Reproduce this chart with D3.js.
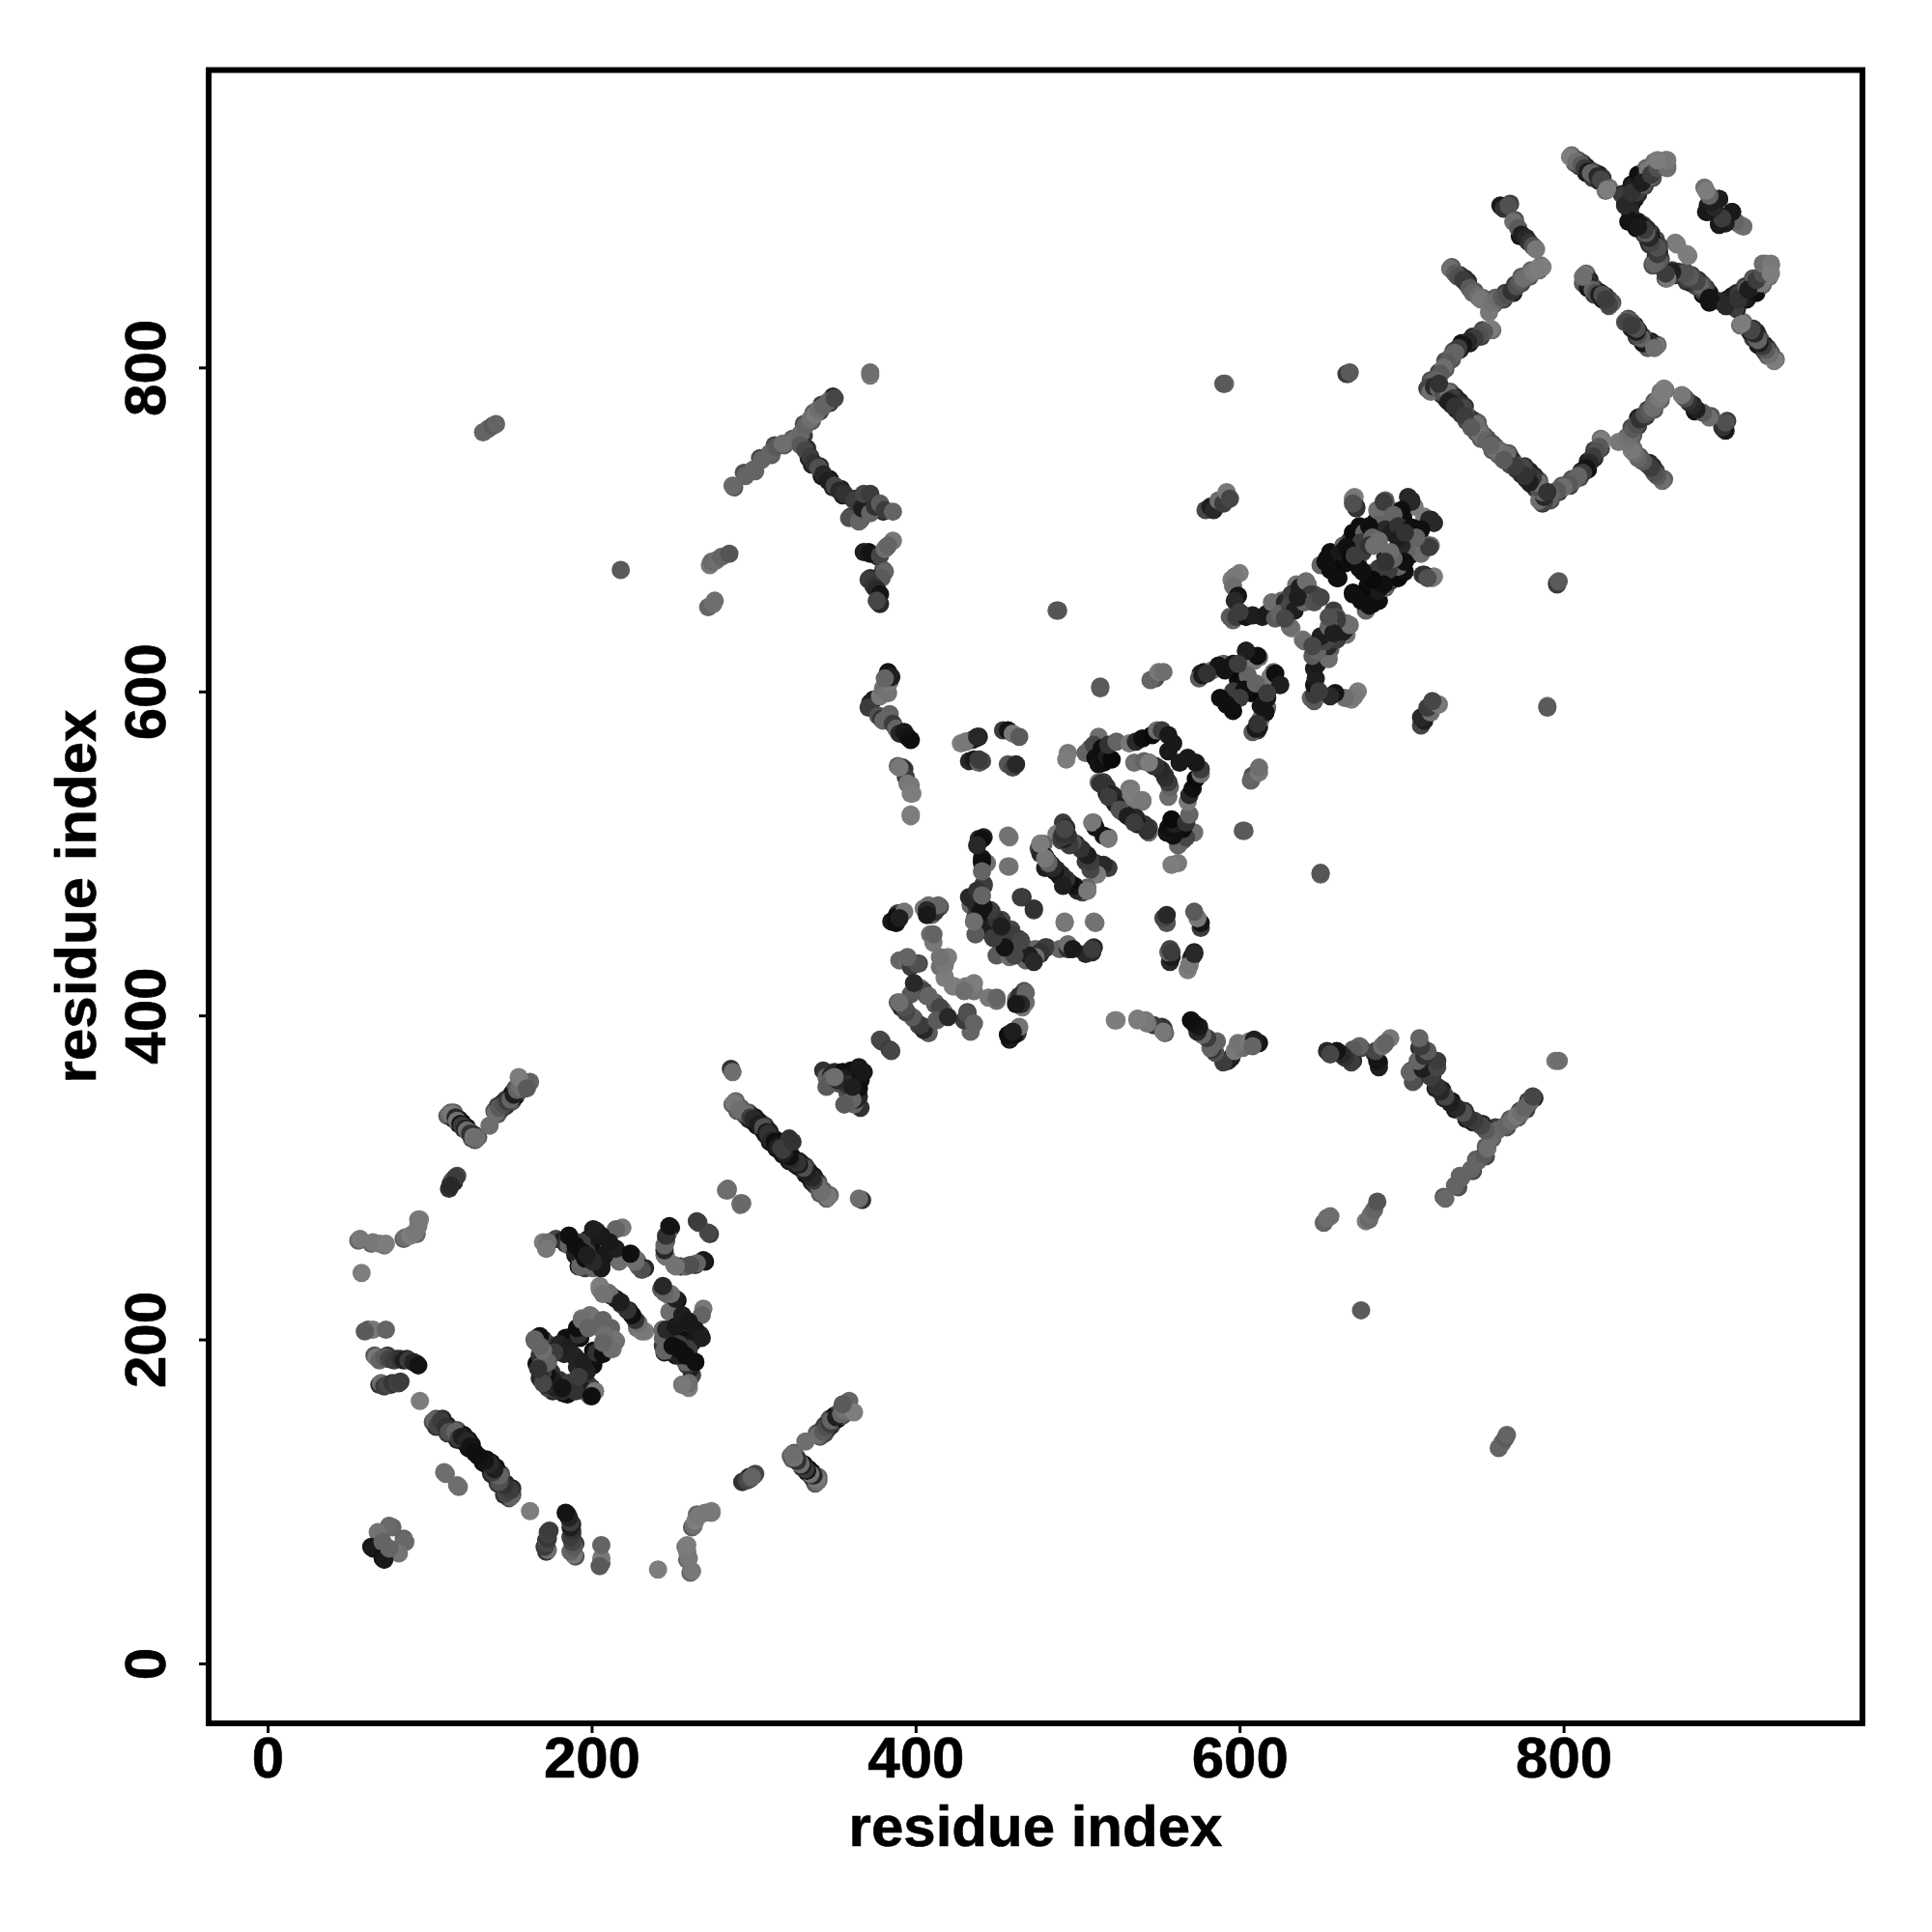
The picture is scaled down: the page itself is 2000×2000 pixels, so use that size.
<!DOCTYPE html>
<html><head><meta charset="utf-8">
<script src="https://cdn.jsdelivr.net/npm/d3@7/dist/d3.min.js"></script>
<style>html,body{margin:0;background:#fff}svg{display:block}</style></head>
<body><svg id="c" width="2000" height="2000"></svg>
<script>
// contacts: [residue i, residue j, grey level], i<j. The map is symmetric, each pair is drawn at (i,j) and (j,i).
const tickLabels=[0,200,400,600,800];
const axisTitle="residue index";
const edgeT=[[288,726,90],[294,735,80],[301,736,100],[304,744,70],[311,746,90],[313,752,70],[319,752,90],[324,756,90],[331,758,60],[331,765,80],[336,767,90],[337,772,90],[341,773,70],[342,777,60],[347,778,60],[349,782,40],
[330,753,50],[333,750,40],[334,744,30],[336,740,30],[341,739,50],[342,733,25],[347,731,20],[349,726,40],[354,725,30],[355,721,30],[360,708,50],[363,719,40],[366,706,70],[366,712,20],[371,711,60],[376,715,30],[380,711,40],
[371,686,15],[377,683,50],[382,689,90],[380,675,70],[372,670,40],[375,664,25],[377,655,30]];
const edgeU=[[762,899,25],[767,901,60],[770,891,80],[773,881,20],[778,878,30],[782,874,90],
[731,862,90],[734,857,70],[736,857,60],[739,855,40],[741,853,40],[743,848,70],[745,847,80],[748,843,90],[750,843,100],
[757,839,100],[758,843,90],[763,842,70],[764,846,60],[769,846,30],[770,851,60],[774,852,70],[774,856,90],[779,856,90],[780,860,100],[785,860,110],[786,863,110],
[756,823,110],[750,823,70],[749,819,60],[744,819,40],[742,815,25],[737,815,15],[736,811,40],[732,810,80],[731,805,80],[727,804,70],[727,799,90],[723,797,70],[722,791,80],[718,792,80],[716,787,50],[717,786,90],
[721,789,25],[724,788,80],[727,785,60],[730,785,90],[733,782,40],[736,779,30],[739,776,50],[742,769,80],[745,767,25],[748,762,100],[747,766,90],[751,758,100],[753,756,80],
[722,786,30],[725,783,60],[728,780,25],[731,777,40],[734,774,30],[737,771,50],[740,767,70],[743,764,80],[746,760,90],[749,756,90]];
const edgeV=[[805,931,110],[809,928,90],[812,926,70],[814,924,40],[816,922,15],[818,921,80],[820,920,80],[822,919,30],[824,917,50],[828,911,110],
[807,926,100],[810,924,70],[814,920,25],[818,917,60],[822,915,40],[826,909,110],
[814,858,100],[816,854,30],[817,851,20],[819,849,80],[821,847,60],[823,846,20],[826,844,30],[828,842,70],[830,840,80],[812,852,90],[815,849,20],[819,845,60],[824,842,30],[828,838,80],
[838,905,40],[840,899,15],[842,901,30],[844,904,20],[844,911,20],[846,907,40],[848,917,15],[850,912,70],[851,915,30],[853,921,100],[855,917,80],[858,925,110],
[836,907,40],[838,901,15],[840,903,30],[842,906,20],[842,913,20],[844,909,40],[846,919,15],[848,914,70],[849,917,30],[851,923,100],[853,919,80],[856,927,110],
[842,892,15],[846,890,20],[849,888,60],[852,885,80],[854,883,50],[857,879,70],[840,890,15],[844,888,20],[847,886,60],[850,883,80],[852,881,50],[855,877,70],
[867,860,70],[871,859,40],[875,859,60],[878,855,50],[881,854,25],[884,852,70],[886,851,40],[888,847,15],[863,855,80],[865,858,80],[869,857,40],[873,857,60],[876,853,50],[879,852,25],[882,850,70],[886,845,15]];
const edgeO=[[113,340,100],[115,340,100],[118,336,30],[120,334,15],[123,331,20],[125,328,80],[128,326,30],[130,325,90],[111,338,90],[115,336,30],[118,333,15],[121,330,40],[124,328,20],[126,324,90],[128,323,90],
[142,339,90],[144,342,70],[147,344,60],[149,346,40],[151,347,80],[153,350,20],[155,353,80],[157,355,90],[140,341,90],[142,344,70],[145,346,60],[147,348,40],[149,349,80],[151,352,20],[153,355,80],[155,358,90],
[104,151,80],[106,148,50],[108,151,40],[111,147,30],[113,144,60],[117,144,80],[119,140,40],[121,141,15],[124,138,25],[126,135,15],[102,149,80],[104,146,50],[106,149,40],[109,145,30],[111,142,60],[115,142,80],[117,138,40],[119,139,15],[122,136,25],[124,133,15],
[289,347,100],[292,343,90],[297,340,90],[299,338,40],[301,337,25],[304,334,20],[307,332,60],[309,329,15],[310,328,30],[312,324,25],[314,323,15],[316,320,20],[287,345,100],[290,341,90],[295,338,90],[297,336,40],[299,335,25],[302,332,20],[305,330,60],[307,327,15],[308,326,30],[310,322,25],[312,321,15],[314,318,20],
[297,115,40],[300,116,60],[295,113,40],[56,261,100],[64,259,100],[72,258,110],[84,262,90],[92,265,100],[66,190,80],[74,190,60],[80,188,40],[86,188,40],[92,185,15],[69,172,50],[76,172,40],[81,173,50]];
const farLeft=[[57,262,120],[65,260,120],[69,259,120],[73,259,125],[85,263,110],[88,264,125],[91,266,120],[94,274,125],[93,270,120],[58,241,125],
[62,206,80],[65,206,120],[73,206,100],[60,205,90],[67,189,120],[69,187,100],[72,189,90],[75,188,70],[78,187,60],[82,188,50],[84,187,30],[87,187,60],[90,186,35],[93,184,20],
[70,173,110],[72,171,60],[74,172,70],[77,173,55],[80,173,65],[82,174,60],[94,162,125]];
const chainH=[[103,150,100],[105,147,70],[107,150,60],[110,146,50],[112,143,80],[116,143,100],[118,139,60],[120,140,30],[123,137,40],[125,134,20],[128,130,15],
[110,117,110],[109,118,110]];
const clusterK=[[70,79,115],[77,84,100],[75,85,105],[65,71,20],[68,81,115],[64,72,25],[71,75,100]];
const armA=[[112,339,110],[114,339,120],[116,337,40],[117,335,115],[119,333,20],[120,332,60],[122,330,30],[123,329,110],[125,327,50],[127,325,115],[129,324,110],
[137,332,110],[141,340,110],[143,343,90],[146,345,80],[148,347,60],[150,348,100],[152,351,30],[154,354,100],[156,356,110],[158,357,115],[162,359,100],[155,362,125],[160,355,90]];
const armB=[[112,293,50],[113,296,70],[114,298,80],[117,301,70],[115,299,100]];
const farA=[[136,762,100],[133,760,100],[139,764,90],[141,765,100],[218,675,90],[272,652,100],[275,654,110],[276,656,110],
[273,678,120],[274,680,105],[277,681,110],[280,683,100],[285,685,85],[372,795,120],[372,797,110]];
const armT=[[287,727,105],[295,733,100],[300,737,100],[305,743,100],[310,747,100],[314,751,90],[318,753,110],[325,755,110],[329,759,105],[332,764,100],[335,768,110],[338,771,120],[340,774,110],[343,776,100],[346,779,100],[350,781,70],
[329,752,90],[332,749,70],[335,745,60],[337,741,50],[340,738,80],[343,734,40],[346,730,30],[350,727,70],[353,724,40],[356,722,50],[359,707,80],[362,718,60],[365,705,100],[367,713,30],[368,722,70],[372,722,60],[372,710,100],[375,714,50],[378,716,90],[381,712,60],[386,711,100],
[368,686,30],[372,685,20],[378,684,70],[381,688,110],[386,693,120],[383,690,100],[381,674,100],[379,670,90],[371,669,60],[374,665,50],[376,663,40],[378,660,20],[378,654,40],[376,656,70]];
const contactsC=[[173,259,110],[170,260,125],[178,262,70],[182,261,30],[187,262,15],[184,259,50],[190,260,40],[192,257,60],[194,255,30],[195,245,110],[197,252,25],[199,249,60],
[203,267,50],[205,262,25],[204,265,15],[207,257,100],[209,256,25],[211,254,35],[213,252,15],[215,251,80],[217,248,110],[201,247,30],[206,244,110],[204,250,20],[219,269,120],[225,252,30],[228,249,110],[229,245,100],[233,244,40],
[205,231,120],[210,229,110],[212,227,50],[215,225,15],[218,222,50],[225,215,30],[228,211,110],[233,205,125],[228,207,115],[223,218,30],
[249,269,25],[247,265,100],[246,261,80],[245,252,115],[251,246,115],[255,245,40],[258,245,100],[264,246,50],[270,248,20],[266,272,70],[273,265,60],[243,231,80],[248,227,110],[253,224,15],
[172,256,110],[192,245,30],[196,244,60],[201,244,100],[206,246,40],[190,252,20],[193,250,100],[197,254,15],[200,256,70],[203,258,15],[186,258,100],[198,262,25],[194,260,60],
[215,268,100],[211,258,100],[186,264,100],[190,254,35],[208,252,25]];
const contactsD=[[165,199,120],[167,197,100],[170,200,20],[172,198,60],[169,195,90],[174,190,110],[171,193,30],[167,183,25],[166,185,15],[169,177,60],[175,180,50],[170,178,30],[168,182,40],[173,186,60],[168,190,50],
[168,202,120],[165,200,15],[184,201,15],[188,202,15],[193,201,15],[189,190,35],[183,191,35],[180,197,35],[186,195,30],[192,203,50],[191,207,15],[194,213,120],[199,215,110],[206,211,100],[212,207,100],[200,214,115],[194,212,110],[177,192,60],[203,208,110],[198,207,100],
[172,172,40],[175,176,30],[178,172,15],[180,170,60],[183,168,100],[170,182,20],[176,168,40],[173,170,70],[186,173,100],[193,170,110],[202,168,15],[200,165,100],[196,168,100],[182,167,50]];
const contactsE=[[93,274,120],[244,206,25],[248,201,40],[252,197,30],[215,256,30],[211,260,25],[206,264,25],[201,268,30],[186,264,15],[190,258,15],[193,245,100],[197,254,60],[194,254,15],[196,250,15],[173,260,110],[172,256,120]];
const chainS=[[286,367,50],[287,365,110],[288,346,120],[291,342,110],[296,339,110],[298,337,60],[300,336,40],[303,333,30],[306,331,80],[308,328,25],[309,327,50],[311,323,40],[313,322,15],[315,319,30],[317,318,60],[322,324,50],
[283,292,110],[292,284,110],[284,293,105],
[343,366,50],[345,362,100],[348,363,30],[350,365,40],[352,358,80],[355,365,15],[357,358,50],[360,366,15],[348,361,100],[345,356,90],[360,352,40],[362,350,110],[356,361,30],[365,368,25],[379,384,60]];
const chainL=[[372,593,40],[374,595,30],[371,590,60],[378,597,120],[380,602,110],[383,599,115],[384,606,120],[383,612,20],[385,609,30],[381,608,100],[377,585,80],[379,583,50],[380,582,100],[384,586,100],[386,580,60],[388,577,100],[390,574,40],[393,575,25],[395,572,20],[397,570,15],
[389,554,100],[392,553,50],[393,552,50],[394,547,60],[395,543,120],[397,542,120],[397,537,125],[397,523,125]];
const blockB=[[428,568,125],[431,569,110],[435,570,60],[437,571,25],[439,572,30],[433,557,40],[436,558,25],[439,556,100],[441,557,70],[454,576,60],[457,576,20],[460,574,120],[464,572,90],[457,555,85],[460,553,70],[462,555,40],
[431,569,120],[438,572,40],[439,558,60]];
const pentagon=[[494,562,120],[493,558,125],[508,565,90],[505,562,100],[513,572,110],[510,567,70],[515,565,15],[511,559,15],[513,555,20],[516,556,15],[518,560,30],[521,558,10],[519,567,50],[524,569,100],[532,568,120],[536,569,40],[540,571,15],[546,573,10],[549,576,110],[552,576,60],[556,573,25],[559,568,25],[556,563,25],
[535,556,110],[541,557,100],[544,556,60],[547,554,45],[552,551,40],[554,548,50],[556,544,125],
[533,540,125],[531,536,120],[538,533,125],[532,540,120],[513,544,110],[516,544,60],[518,541,50],[520,537,60],[522,536,40],[524,530,50],[527,526,80],[523,531,30],[518,537,25],[514,543,50],[519,535,60]];
const blockD=[[510,519,110],[511,516,20],[509,519,120],[491,519,60],[493,516,40],[487,512,125],[490,508,70],[495,508,60],[499,506,30],[503,502,50],[507,497,80],[505,495,60],[509,492,30],[511,494,50],[510,490,60],[512,491,50],[515,492,70],
[479,506,100],[476,503,70],[477,500,40],[480,498,20],[482,495,15],[484,493,50],[487,490,40],[489,486,20],[491,485,40],[494,482,100],[497,480,120],[506,477,125],[477,506,120],[480,491,30]];
const blockE=[[439,509,40],[442,510,35],[441,494,50],[444,494,110],[441,497,25],[458,510,120],[458,492,120],[441,509,60],
[442,480,60],[439,477,50],[436,474,110],[434,468,100],[437,470,30],[433,473,40],[447,464,50],[453,459,70],[439,458,100],[445,452,80],[444,461,30],[450,459,60],[446,465,70],[437,461,70],[442,455,20],[453,444,30],[448,448,60],[459,450,50],[455,453,30],[465,446,60],[461,437,60],[469,437,40],[464,440,20],[467,442,20],[481,442,60],[477,438,50],[474,441,100],[495,441,15],[489,441,100],[509,441,15],[505,438,40],
[466,473,50],[473,465,60],[492,457,115],[457,511,115],[450,437,90],[458,436,110]];
const blockF=[[389,463,60],[385,458,25],[388,461,15],[393,464,115],[405,466,120],[410,462,110],[415,467,80],[412,464,50],[408,468,110],[409,450,110],[411,445,120],
[390,434,100],[395,434,110],[397,430,60],[402,432,70],[417,434,120],[420,436,125],[418,424,125],[423,418,125],[431,418,120],[436,415,115],[403,416,110],[407,412,90],[412,408,100],[389,408,90],[391,405,40],[394,403,60],[399,398,90],[402,394,70],[405,393,80],[408,390,110],[403,417,120],[405,415,70],
[401,432,80],[395,436,100],[388,457,15],[390,460,30],[411,450,100],[414,468,100],[407,465,40],[407,462,25],[378,385,70],[397,413,90],[399,420,40],[415,430,110],[398,537,125],[397,524,125],[390,553,120]];
const blockG=[[514,603,90],[549,610,110],[548,608,80],[545,607,100],[550,612,120],[553,612,110],[487,650,100],[488,650,85],[602,514,90],[591,790,110],[590,790,90],[667,796,85],[666,796,60],[668,797,90],[579,712,70],[582,714,30],[584,712,40],[587,718,110],[590,716,60],[592,723,120],[594,719,70]];
const blockH=[[576,611,40],[575,608,90],[578,612,25],[587,615,100],[583,613,110],[590,617,100],[597,617,110],[595,615,60],[604,625,20],[607,622,110],[600,610,40],[602,608,110],[612,621,110],[609,619,120],[611,622,15],
[596,617,20],[604,625,30],[599,607,10],[601,603,15],[587,616,20],[577,610,25],[580,611,50],[591,613,20],[596,600,60],[605,610,100],[588,596,15],[592,592,15],[599,617,60],
[596,644,100],[594,646,90],[598,646,60],[601,648,60],[604,646,20],[608,647,30],[614,646,30],[617,648,25],[600,673,125],[595,669,125],[597,671,120],[596,665,110],[599,659,20],[597,656,40],[600,649,60]];
const blockJ=[[626,656,100],[624,650,30],[620,655,110],[622,645,90],[628,655,40],[630,650,90],[632,639,120],[635,666,115],[632,660,60],[638,665,60],[642,666,110],[640,661,40],[649,658,60],[645,658,50],[646,660,80],[631,640,110],[625,648,100],[631,653,70],[634,650,30],[658,650,70],[637,664,30],[641,668,110],[644,660,60],[640,655,100],[636,658,30],[646,655,80],[628,645,70]];
const blockK=[[654,682,15],[650,678,100],[656,686,15],[660,684,15],[662,685,30],[660,670,15],[656,675,15],[665,679,10],[661,670,15],[673,681,110],[670,688,100],[664,690,100],[668,693,60],[672,696,15],[670,698,10],[680,701,20],[674,702,15],[677,698,100],[684,705,15],[687,703,60],[685,712,110],[688,706,110],[692,713,110],[690,718,100],[671,720,125],[672,714,30],[706,718,25],[704,720,40],[708,714,125],[701,707,10],[701,706,15],[706,717,40],[700,712,15],
[689,717,60],[670,719,120],[672,713,50],[670,716,80],[695,709,100],[686,703,100],[690,700,40],[694,698,30],[698,702,50],[680,702,15],[683,690,30],[678,692,40],[675,692,60],[671,684,10],[668,680,15],[676,686,60],[682,695,100],[686,693,110],[690,683,110],[653,680,15],[663,686,25],[666,689,15],[669,682,10],[674,676,15],[684,671,60],[680,690,50]];
const chainU=[[761,900,25],[763,898,50],[766,900,80],[769,890,110],[772,886,90],[774,882,30],[777,880,40],[779,877,50],[781,875,80],[783,873,120],
[730,861,110],[733,858,90],[735,856,80],[738,854,60],[740,852,60],[742,849,90],[744,846,100],[747,844,110],[749,842,120],
[754,834,120],[756,840,115],[759,842,110],[762,843,90],[765,845,80],[768,847,50],[771,850,80],[773,853,90],[775,855,110],[778,857,110],[781,859,120],[784,861,125],[787,862,125],
[755,824,125],[751,822,90],[748,820,80],[745,818,60],[741,816,40],[738,814,20],[735,812,60],[733,809,100],[730,806,100],[728,803,90],[726,800,110],[724,796,90],[721,792,100],[719,791,100],[717,788,70],[718,785,110],
[720,788,40],[723,787,100],[726,784,80],[729,784,110],[732,781,60],[735,778,50],[738,775,70],[741,768,100],[744,766,40],[747,761,120],[746,765,110],[750,757,115],[752,755,100],
[723,790,50],[729,779,30],[733,776,50],[739,770,60],[743,763,90]];
const chainV=[[804,930,125],[808,927,110],[811,925,90],[813,923,60],[815,921,30],[817,920,100],[819,919,100],[821,918,40],[823,916,70],[827,910,125],
[813,857,120],[815,853,50],[816,850,30],[818,848,100],[820,846,80],[822,845,30],[825,843,50],[827,841,90],[829,839,100],[824,845,80],[812,856,110],[828,839,70],[826,842,60],
[837,906,60],[839,900,25],[841,902,50],[843,905,30],[843,912,30],[845,908,60],[847,918,15],[849,913,90],[850,916,50],[852,922,120],[854,918,100],[857,926,125],[860,925,120],[864,925,125],[863,928,125],[841,896,40],
[841,891,20],[845,889,30],[848,887,80],[851,884,100],[853,882,70],[856,878,90],[858,875,80],[859,867,30],[855,864,120],[869,877,125],[876,870,125],
[858,863,60],[866,859,90],[864,856,100],[870,858,60],[874,858,80],[877,854,70],[880,853,40],[883,851,90],[885,850,60],[887,846,25],[843,890,20]];
const chainW=[[887,911,110],[890,906,100],[889,900,30],[896,904,25],[888,896,25],[892,898,60],[896,889,25],[899,893,40],[902,891,30],[904,896,30],[906,890,100],[909,888,125],
[838,900,40],[842,908,50],[848,914,30],[854,919,60],[858,923,80],[864,923,110],[864,928,120],[858,928,125]];
const groups=[edgeT,edgeU,edgeV,edgeO,farLeft,chainH,clusterK,armA,armB,farA,armT,contactsC,contactsD,contactsE,chainS,chainL,blockB,pentagon,blockD,blockE,blockF,blockG,blockH,blockJ,blockK,chainU,chainV,chainW];

const left=216,right=1928,top_=72.5,bottom=1784;
const x=d3.scaleLinear().domain([-36.4,984.5]).range([left,right]);
const y=d3.scaleLinear().domain([-37,983.6]).range([bottom,top_]);
const svg=d3.select("#c");
const contacts=groups.flat();
const marks=contacts.concat(contacts.map(d=>[d[1],d[0],d[2]]));
svg.append("g").selectAll("circle").data(marks).join("circle")
  .attr("cx",d=>x(d[0])).attr("cy",d=>y(d[1])).attr("r",9.5)
  .attr("fill",d=>d3.rgb(d[2],d[2],d[2]).formatHex());
svg.append("rect").attr("x",left).attr("y",top_).attr("width",right-left).attr("height",bottom-top_)
  .attr("fill","none").attr("stroke","#000").attr("stroke-width",6);
const font="'Liberation Sans',Arial,sans-serif";
const gx=svg.append("g").attr("transform",`translate(0,${bottom})`)
  .call(d3.axisBottom(x).tickValues(tickLabels).tickSize(10).tickPadding(6).tickFormat(d3.format("d")));
gx.select(".domain").remove();
gx.selectAll("line").attr("stroke","#000").attr("stroke-width",3);
gx.selectAll("text").attr("dy",null).attr("y",56).attr("fill","#000")
  .style("font",`bold 60px ${font}`).attr("stroke","#000").attr("stroke-width",0.6);
const gy=svg.append("g").attr("transform",`translate(${left},0)`)
  .call(d3.axisLeft(y).tickValues(tickLabels).tickSize(10).tickFormat(d3.format("d")));
gy.select(".domain").remove();
gy.selectAll("line").attr("stroke","#000").attr("stroke-width",3);
gy.selectAll("text").attr("x",null).attr("dy",null)
  .attr("transform","translate(-45,0) rotate(-90)").attr("text-anchor","middle").attr("fill","#000")
  .style("font",`bold 60px ${font}`).attr("stroke","#000").attr("stroke-width",0.6);
svg.append("text").attr("x",1072).attr("y",1911).attr("text-anchor","middle").style("font",`bold 60px ${font}`).attr("stroke","#000").attr("stroke-width",0.6).text(axisTitle);
svg.append("text").attr("transform","translate(99,928) rotate(-90)").attr("text-anchor","middle").style("font",`bold 60px ${font}`).attr("stroke","#000").attr("stroke-width",0.6).text(axisTitle);
</script></body></html>
